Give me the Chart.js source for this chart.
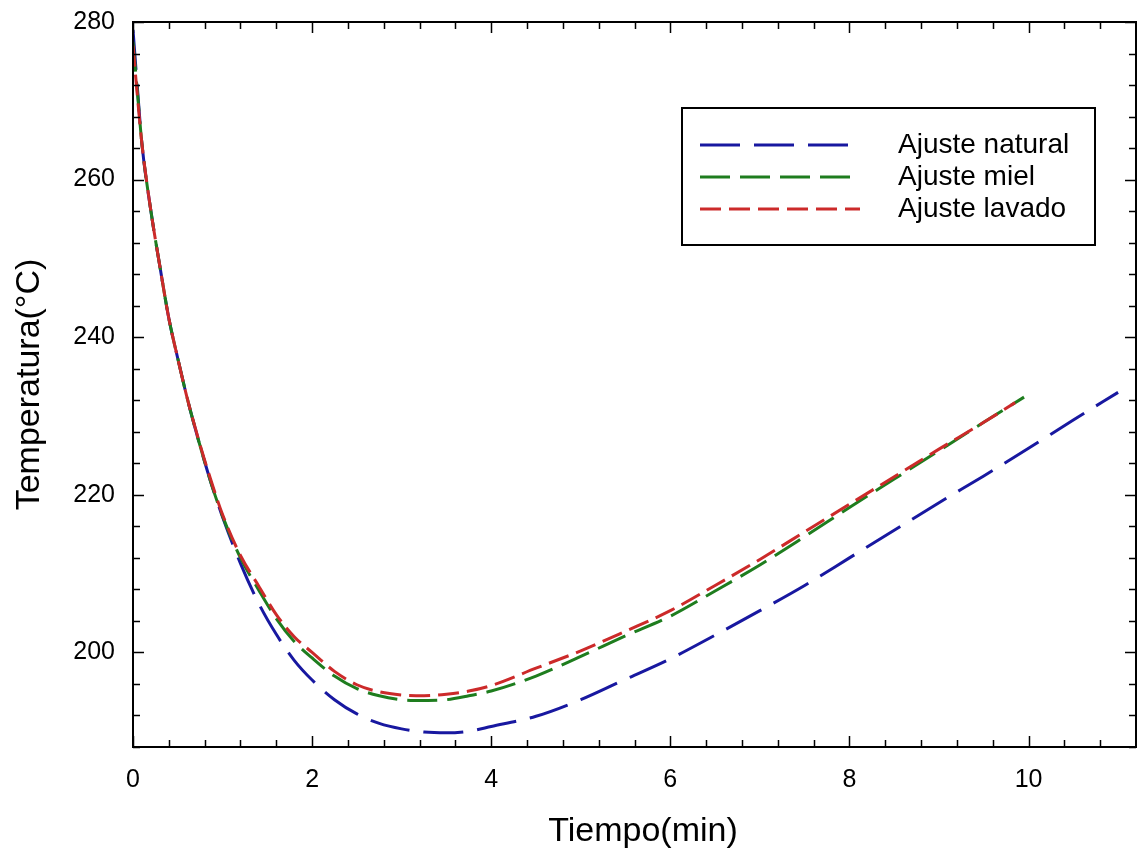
<!DOCTYPE html>
<html>
<head>
<meta charset="utf-8">
<title>Ajuste temperatura</title>
<script src="https://cdn.jsdelivr.net/npm/chart.js"></script>
<style>
  html, body { margin: 0; padding: 0; background: #fff; }
  #wrap { width: 1137px; height: 854px; }
</style>
</head>
<body>
<div id="wrap"><canvas id="tempChart"></canvas></div>
<script>
// tiempo (min) comun a las tres curvas, luego cada una termina donde termina
const tiempo = [0, 0.05, 0.1, 0.2, 0.3, 0.4, 0.5, 0.6, 0.7, 0.8, 0.9, 1.0, 1.2, 1.4, 1.6, 1.8,
  2.0, 2.25, 2.5, 2.75, 3.0, 3.25, 3.5, 3.75, 4.0, 4.5, 5.0, 5.5, 6.0, 6.5, 7.0, 7.5, 8.0, 8.5, 9.0, 9.5];
const tNatural = tiempo.concat([10.0, 10.5, 11.0]);
const tMiel = tiempo.concat([9.95]);
const tLavado = tiempo.concat([9.85]);

// temperatura (°C)
const tempNatural = [279, 271.5, 264.5, 256, 249, 242.4, 237.3, 232.5, 228.2, 224.2, 220.5, 217.2,
  211.3, 206.3, 202.3, 199.0, 196.5, 194.0, 192.2, 191.0, 190.3, 189.9, 189.8, 190.0, 190.6,
  191.9, 194.0, 196.6, 199.2, 202.2, 205.3, 208.5, 212.0, 215.5, 219.0, 222.4, 225.9, 229.5, 233.0];
const tempMiel = [277.5, 271, 264.5, 256, 249, 242.4, 237.3, 232.5, 228.2, 224.2, 220.5, 217.3,
  212.0, 208.0, 204.3, 201.4, 199.3, 197.0, 195.4, 194.5, 194.0, 193.9, 194.0, 194.5, 195.1,
  197.0, 199.5, 202.1, 204.6, 207.8, 211.1, 214.7, 218.4, 222.0, 225.6, 229.2, 232.4];
const tempLavado = [277, 270.5, 264.5, 256, 249, 242.4, 237.3, 232.5, 228.3, 224.4, 220.8, 217.5,
  212.3, 208.5, 204.8, 202.0, 200.0, 197.6, 195.9, 195.0, 194.6, 194.5, 194.7, 195.1, 195.8,
  198.0, 200.2, 202.7, 205.3, 208.5, 211.8, 215.3, 218.8, 222.3, 225.8, 229.2, 231.7];

const etiquetas = ['Ajuste natural', 'Ajuste miel', 'Ajuste lavado'];
const xTicks = [0, 2, 4, 6, 8, 10];
const yTicks = [200, 220, 240, 260, 280];

const FONT = '"Liberation Sans", Arial, sans-serif';

function pts(xs, ys) {
  return xs.map((x, i) => ({ x: x, y: ys[i] }));
}

// marco y marcas hacia dentro en los cuatro lados
const marco = {
  id: 'marco',
  afterDraw(chart) {
    const { ctx, chartArea: a, scales } = chart;
    const sx = scales.x, sy = scales.y;
    ctx.save();
    ctx.strokeStyle = '#000';
    ctx.lineWidth = 2;
    ctx.strokeRect(a.left, a.top, a.right - a.left, a.bottom - a.top);
    ctx.lineWidth = 1.5;
    ctx.beginPath();
    for (let v = 0; v <= sx.max + 1e-6; v += 0.4) {
      const major = xTicks.some(t => Math.abs(t - v) < 1e-6);
      const len = major ? 11 : 7;
      const px = Math.round(sx.getPixelForValue(v)) + 0.5;
      ctx.moveTo(px, a.bottom); ctx.lineTo(px, a.bottom - len);
      ctx.moveTo(px, a.top); ctx.lineTo(px, a.top + len);
    }
    for (let v = sy.min; v <= sy.max + 1e-6; v += 4) {
      const major = yTicks.some(t => Math.abs(t - v) < 1e-6);
      const len = major ? 11 : 7;
      const py = Math.round(sy.getPixelForValue(v)) + 0.5;
      ctx.moveTo(a.left, py); ctx.lineTo(a.left + len, py);
      ctx.moveTo(a.right, py); ctx.lineTo(a.right - len, py);
    }
    ctx.stroke();

    // titulos de ejes
    ctx.fillStyle = '#000';
    ctx.font = '34px ' + FONT;
    ctx.textAlign = 'center';
    ctx.textBaseline = 'middle';
    ctx.fillText('Tiempo(min)', 643, 832);
    ctx.translate(30, (a.top + a.bottom) / 2);
    ctx.rotate(-Math.PI / 2);
    ctx.fillText('Temperatura(°C)', 0, 0);
    ctx.restore();
  }
};

// leyenda dentro del area del grafico
const leyenda = {
  id: 'leyenda',
  afterDraw(chart) {
    const ctx = chart.ctx;
    ctx.save();
    ctx.fillStyle = '#fff';
    ctx.fillRect(682, 108, 413, 137);
    ctx.strokeStyle = '#000';
    ctx.lineWidth = 2;
    ctx.strokeRect(682, 108, 413, 137);
    ctx.font = '28px ' + FONT;
    ctx.textAlign = 'left';
    ctx.textBaseline = 'middle';
    chart.data.datasets.forEach((ds, i) => {
      const y = 145 + i * 32;
      ctx.strokeStyle = ds.borderColor;
      ctx.lineWidth = 3;
      ctx.setLineDash(ds.borderDash);
      ctx.beginPath();
      ctx.moveTo(700, y);
      ctx.lineTo(860, y);
      ctx.stroke();
      ctx.setLineDash([]);
      ctx.fillStyle = '#000';
      ctx.fillText(ds.label, 898, y);
    });
    ctx.restore();
  }
};

function sinMargen(s) {
  s.paddingTop = 0; s.paddingBottom = 0;
  s.paddingLeft = 0; s.paddingRight = 0;
}

new Chart(document.getElementById('tempChart'), {
  type: 'line',
  data: {
    datasets: [
      { label: etiquetas[0], data: pts(tNatural, tempNatural), borderColor: '#1818a0',
        borderDash: [40, 14], order: 3 },
      { label: etiquetas[1], data: pts(tMiel, tempMiel), borderColor: '#1e7d1e',
        borderDash: [30, 10], order: 2 },
      { label: etiquetas[2], data: pts(tLavado, tempLavado), borderColor: '#cc2a2a',
        borderDash: [21, 8], order: 1 }
    ]
  },
  options: {
    responsive: true,
    maintainAspectRatio: false,
    animation: false,
    devicePixelRatio: 1,
    layout: { padding: { top: 22, right: 1, left: 0, bottom: 0 } },
    elements: {
      line: { borderWidth: 3, fill: false, cubicInterpolationMode: 'monotone' },
      point: { radius: 0 }
    },
    plugins: { legend: { display: false }, tooltip: { enabled: false } },
    scales: {
      x: {
        type: 'linear', min: 0, max: 11.2,
        grid: { display: false, drawTicks: false },
        border: { display: false },
        ticks: { color: '#000', font: { family: FONT, size: 25 }, padding: 18 },
        afterBuildTicks: s => { s.ticks = xTicks.map(v => ({ value: v })); },
        afterFit: s => { s.height = 107; sinMargen(s); }
      },
      y: {
        type: 'linear', min: 188, max: 280,
        grid: { display: false, drawTicks: false },
        border: { display: false },
        ticks: { color: '#000', font: { family: FONT, size: 25 }, padding: 18 },
        afterBuildTicks: s => { s.ticks = yTicks.map(v => ({ value: v })); },
        afterFit: s => { s.width = 133; sinMargen(s); }
      }
    }
  },
  plugins: [marco, leyenda]
});
</script>
</body>
</html>
